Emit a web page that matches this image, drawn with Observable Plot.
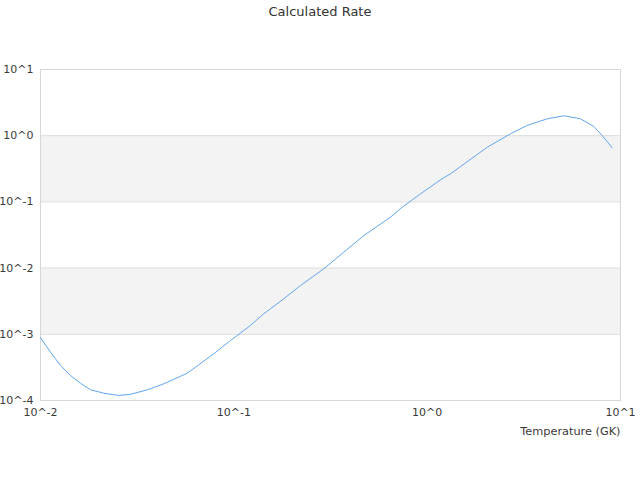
<!DOCTYPE html>
<html>
<head>
<meta charset="utf-8">
<script src="https://cdn.jsdelivr.net/npm/d3@7"></script>
<script src="https://cdn.jsdelivr.net/npm/@observablehq/plot@0.6"></script>
<style>
  body { margin: 0; background: #fff; font-family: "DejaVu Sans", sans-serif; }
  #title { height: 24px; line-height: 24px; text-align: center; font-size: 13px; color: #333; width: 640px; }
</style>
</head>
<body>
<div id="title">Calculated Rate</div>
<div id="chart"></div>
<script>
const temperature = [0.01, 0.01127, 0.01268, 0.01428, 0.0161, 0.01815, 0.02125, 0.02541, 0.02922, 0.03566,
  0.04348, 0.0574, 0.0787, 0.0961, 0.1219, 0.1428, 0.1813, 0.2212, 0.2919, 0.3703,
  0.4699, 0.6457, 0.7424, 0.924, 1.173, 1.321, 1.815, 2.046, 2.70, 3.29,
  4.18, 5.09, 6.21, 7.28, 8.04, 9.06];
const rate = [8.9e-4, 5.37e-4, 3.38e-4, 2.39e-4, 1.82e-4, 1.45e-4, 1.29e-4, 1.19e-4, 1.24e-4, 1.45e-4,
  1.79e-4, 2.58e-4, 5.07e-4, 8.05e-4, 1.36e-3, 2.04e-3, 3.44e-3, 5.46e-3, 9.75e-3, 1.74e-2,
  3.10e-2, 5.87e-2, 8.32e-2, 0.1324, 0.216, 0.266, 0.520, 0.670, 1.07, 1.43,
  1.80, 2.00, 1.80, 1.38, 1.007, 0.656];
const decadeTicks = [1e-4, 1e-3, 1e-2, 1e-1, 1, 10];
const xTicks = [0.01, 0.1, 1, 10];
const bandLow = [1e-1, 1e-3];
const bandHigh = [1, 1e-2];

const data = temperature.map((t, i) => ({t, r: rate[i]}));
const bands = bandLow.map((lo, i) => ({lo, hi: bandHigh[i]}));
const fmt = d => `10^${Math.round(Math.log10(d))}`;

const chart = Plot.plot({
  width: 640,
  height: 456,
  marginTop: 45,
  marginBottom: 80,
  marginLeft: 40,
  marginRight: 20,
  style: {fontFamily: "DejaVu Sans, sans-serif", fontSize: "11px", color: "#3a3a3a", background: "#fff"},
  x: {type: "log", domain: [0.01, 10], ticks: xTicks, tickFormat: fmt, tickSize: 0, tickPadding: 8, label: null},
  y: {type: "log", domain: [1e-4, 10], ticks: decadeTicks, tickFormat: fmt, tickSize: 0, tickPadding: 7, label: null},
  marks: [
    Plot.rect(bands, {x1: 0.01, x2: 10, y1: "lo", y2: "hi", fill: "#f3f3f3"}),
    Plot.ruleY(decadeTicks, {stroke: "#dddddd", strokeWidth: 1}),
    Plot.frame({stroke: "#d6d6d6"}),
    Plot.line(data, {x: "t", y: "r", stroke: "#62a6ee", strokeWidth: 1, curve: "linear"}),
    Plot.text(["Temperature (GK)"], {frameAnchor: "bottom-right", text: d => d, textAnchor: "end", lineAnchor: "middle", dy: 31, fill: "#3a3a3a", fontSize: 11.3})
  ]
});
document.getElementById("chart").appendChild(chart);
</script>
</body>
</html>
